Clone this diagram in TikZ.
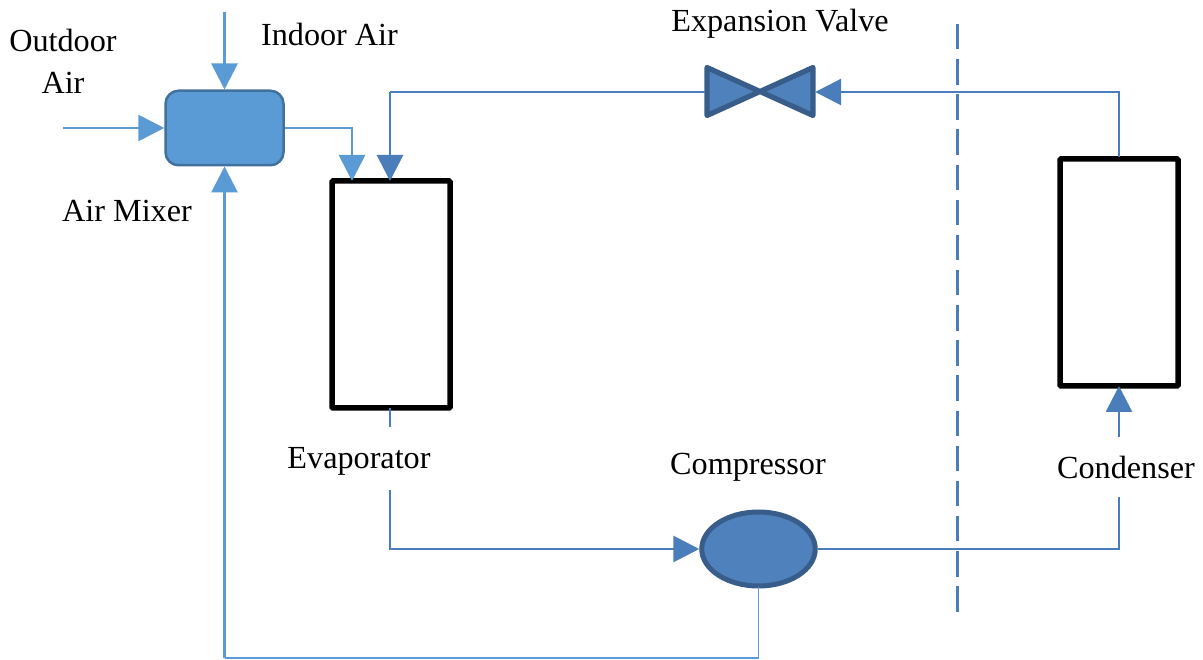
\documentclass[tikz,border=0pt]{standalone}
\usepackage{fontspec}
\setmainfont{Liberation Serif}
\usetikzlibrary{arrows.meta,shapes.geometric}
\definecolor{airblue}{HTML}{5B9BD5}
\definecolor{airedge}{HTML}{41719C}
\definecolor{refblue}{HTML}{4A7EBB}
\definecolor{refedge}{HTML}{385D8A}
\definecolor{fillblue}{HTML}{4F81BD}
\tikzset{
  tipA/.style={-{Triangle[length=26pt,width=26pt]}},
  airline/.style={draw=airblue,line width=2.9pt},
  refline/.style={draw=refblue,line width=2.9pt},
  unit/.style={draw=black,line width=5.5pt,rounded corners=1pt,fill=white,minimum width=118pt,minimum height=227pt,inner sep=0pt,anchor=north west},
  lab/.style={font=\fontsize{32.2}{36}\selectfont,inner sep=0pt,text=black,anchor=base},
  ghost/.style={inner sep=0pt,minimum size=0pt}
}
\begin{document}
\begin{tikzpicture}[x=1pt,y=-1pt]
\useasboundingbox (0,0) rectangle (1203,660);
% divider
\coordinate (divtop) at (957,24);
\coordinate (divbot) at (957,612);
\draw[draw=refblue,line width=3pt,dash pattern=on 25.5pt off 9.64pt] (divtop) -- (divbot);
% components
\node[draw=airedge,fill=airblue,line width=2.5pt,rounded corners=13pt,minimum width=118pt,minimum height=74.5pt,inner sep=0pt] (mixer) at (224.5,128) {};
\node[unit] (evap) at (329.25,178.25) {};
\node[unit] (cond) at (1057.25,156.25) {};
\node[ellipse,draw=refedge,fill=fillblue,line width=5pt,minimum width=113.5pt,minimum height=74pt,inner sep=0pt] (comp) at (758.5,549) {};
\node[ghost,minimum width=110pt,minimum height=53pt] (valve) at (760,92) {};
\draw[draw=refedge,fill=fillblue,line width=5.2pt,line join=round]
  (707,67.5) -- (707,115.5) -- (813,67.5) -- (813,115.5) -- cycle;
% free ends and corners
\coordinate (indoor) at (224.5,12);
\coordinate (outdoor) at (63,128);
\coordinate (mixcorner) at (352,128);
\coordinate (evapin) at (352,181);
\coordinate (valvecorner) at (390,92);
\coordinate (evaprefin) at (390,181);
\coordinate (condtop) at (1119,157);
\coordinate (condcorner) at (1119,92);
\coordinate (condin) at (1119,386);
\coordinate (condlow) at (1119,437);
\coordinate (condlab) at (1119,497);
\coordinate (condcorner2) at (1119,549);
\coordinate (evapout) at (390,408);
\coordinate (evapstub) at (390,427);
\coordinate (evaplab) at (390,490);
\coordinate (evapcorner) at (390,549);
\coordinate (retcorner) at (224.5,658);
\coordinate (retcorner2) at (758.5,658);
\coordinate (compbot) at (758.5,587);
% connectors
\draw[airline,tipA] (indoor) -- (mixer.north);
\draw[airline,tipA] (outdoor) -- (mixer.west);
\draw[airline,tipA] (mixer.east) -- (mixcorner) -- (evapin);
\draw[refline] (valve.west) -- (valvecorner);
\draw[refline,tipA] (valvecorner) -- (evaprefin);
\draw[refline,tipA] (condtop) -- (condcorner) -- (valve.east);
\draw[refline,tipA] (condlow) -- (condin);
\draw[refline] (condlab) -- (condcorner2) -- (comp.east);
\draw[refline] (evapout) -- (evapstub);
\draw[refline,tipA] (evaplab) -- (evapcorner) -- (comp.west);
\draw[draw=airblue,line width=1.4pt] (compbot) -- (retcorner2);
\draw[draw=airblue,line width=2pt] (retcorner2) -- (retcorner);
\draw[airline,tipA] (retcorner) -- (mixer.south);
% labels
\node[lab] (toutdoor) at (63,52) {Outdoor};
\node[lab] (tair) at (63,94) {Air};
\node[lab] (tindoor) at (329.5,46) {Indoor Air};
\node[lab] (tmixer) at (127,222) {Air Mixer};
\node[lab] (tvalve) at (780,32) {Expansion Valve};
\node[lab] (tevap) at (359,468) {Evaporator};
\node[lab] (tcomp) at (748,475) {Compressor};
\node[lab] (tcond) at (1126,478) {Condenser};
\end{tikzpicture}
\end{document}
